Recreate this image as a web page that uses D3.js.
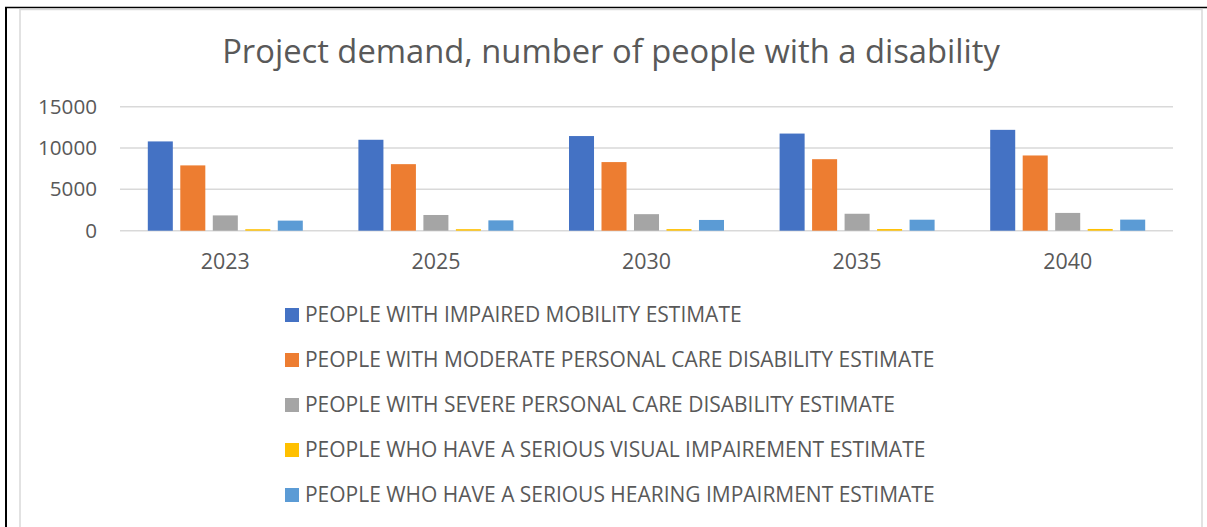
<!DOCTYPE html>
<html>
<head>
<meta charset="utf-8">
<script src="https://cdn.jsdelivr.net/npm/d3@7"></script>
<style>
  html, body { margin: 0; padding: 0; background: #fff; }
  svg { display: block; }
  text { font-family: "Open Sans", "Noto Sans", sans-serif; fill: #595959; }
</style>
</head>
<body>
<svg id="chart" width="1207" height="527"></svg>
<script>
/* Project demand chart - grouped bars */
const years = ['2023', '2025', '2030', '2035', '2040'];
const seriesNames = [
    'PEOPLE WITH IMPAIRED MOBILITY ESTIMATE',
    'PEOPLE WITH MODERATE PERSONAL CARE DISABILITY ESTIMATE',
    'PEOPLE WITH SEVERE PERSONAL CARE DISABILITY ESTIMATE',
    'PEOPLE WHO HAVE A SERIOUS VISUAL IMPAIREMENT ESTIMATE',
    'PEOPLE WHO HAVE A SERIOUS HEARING IMPAIRMENT ESTIMATE'
];
const mobility = [10800, 11000, 11450, 11750, 12200];
const moderateCare = [7900, 8050, 8300, 8650, 9100];
const severeCare = [1850, 1900, 2000, 2050, 2150];
const visual = [180, 185, 195, 200, 210];
const hearing = [1220, 1250, 1300, 1330, 1340];
const yTicks = [0, 5000, 10000, 15000];
const colors = ['#4472C4', '#ED7D31', '#A5A5A5', '#FFC000', '#5B9BD5'];

const allSeries = [mobility, moderateCare, severeCare, visual, hearing];
const rows = years.map((y, i) => ({ year: y, vals: allSeries.map(s => s[i]) }));

const svg = d3.select('#chart');

// frame lines
svg.append('line').attr('x1', 6).attr('x2', 6).attr('y1', 7).attr('y2', 527).style('stroke', '#000').style('stroke-width', 2);
svg.append('line').attr('x1', 5).attr('x2', 1207).attr('y1', 7.5).attr('y2', 7.5).style('stroke', '#000').style('stroke-width', 1.5);
svg.append('rect').attr('x', 20).attr('y', 9.5).attr('width', 1182).attr('height', 530)
    .style('fill', '#fff').style('stroke', '#d9d9d9').style('stroke-width', 1.5);

// fit a text selection to a target width by changing its font size
function fitWidth(sel, target) {
    const w = sel.node().getComputedTextLength();
    const fs = parseFloat(sel.style('font-size'));
    return fs * target / w;
}

const left = 120, right = 1173;
const x0 = d3.scaleBand().domain(years).range([left, right]);
const gw = x0.bandwidth();
const x1 = d3.scaleBand().domain(d3.range(5)).range([gw * 0.132, gw * 0.868]).paddingInner(0.23);
const y = d3.scaleLinear().domain([0, 15000]).range([230.7, 106.7]);

// gridlines
svg.append('g').selectAll('line').data(yTicks).enter().append('line')
    .attr('x1', left).attr('x2', right)
    .attr('y1', d => y(d)).attr('y2', d => y(d))
    .style('stroke', '#d9d9d9').style('stroke-width', 1.5);

// y labels
const yl = svg.append('g').selectAll('text').data(yTicks).enter().append('text')
    .attr('x', 97).attr('y', d => y(d) + 7)
    .attr('text-anchor', 'end')
    .style('font-size', '20px')
    .text(d => d);
const yfs = fitWidth(d3.select(yl.nodes()[3]), 59);
yl.style('font-size', yfs + 'px');

// bars
const grp = svg.append('g').selectAll('g').data(rows).enter().append('g')
    .attr('transform', d => `translate(${x0(d.year)},0)`);
grp.selectAll('rect').data(d => d.vals).enter().append('rect')
    .attr('x', (d, i) => x1(i))
    .attr('width', x1.bandwidth())
    .attr('y', d => y(d))
    .attr('height', d => y(0) - y(d))
    .style('fill', (d, i) => colors[i]);

// x labels
const xl = svg.append('g').selectAll('text').data(years).enter().append('text')
    .attr('x', d => x0(d) + gw / 2).attr('y', 269)
    .attr('text-anchor', 'middle')
    .style('font-size', '20px')
    .text(d => d);
const xfs = fitWidth(d3.select(xl.nodes()[0]), 49);
xl.style('font-size', xfs + 'px');

// title
const title = svg.append('text')
    .attr('x', 611).attr('y', 63)
    .attr('text-anchor', 'middle')
    .style('font-size', '30px')
    .text('Project demand, number of people with a disability');
title.style('font-size', fitWidth(title, 778) + 'px');

// legend
const leg = svg.append('g').selectAll('g').data(seriesNames).enter().append('g')
    .attr('transform', (d, i) => `translate(285,${322 + i * 45})`);
leg.append('rect').attr('x', 0).attr('y', -14).attr('width', 14).attr('height', 14)
    .style('fill', (d, i) => colors[i]);
const lt = leg.append('text').attr('x', 20).attr('y', 0)
    .style('font-size', '20px')
    .text(d => d);
const lfs = fitWidth(d3.select(lt.nodes()[1]), 630);
lt.style('font-size', lfs + 'px');
</script>
</body>
</html>
